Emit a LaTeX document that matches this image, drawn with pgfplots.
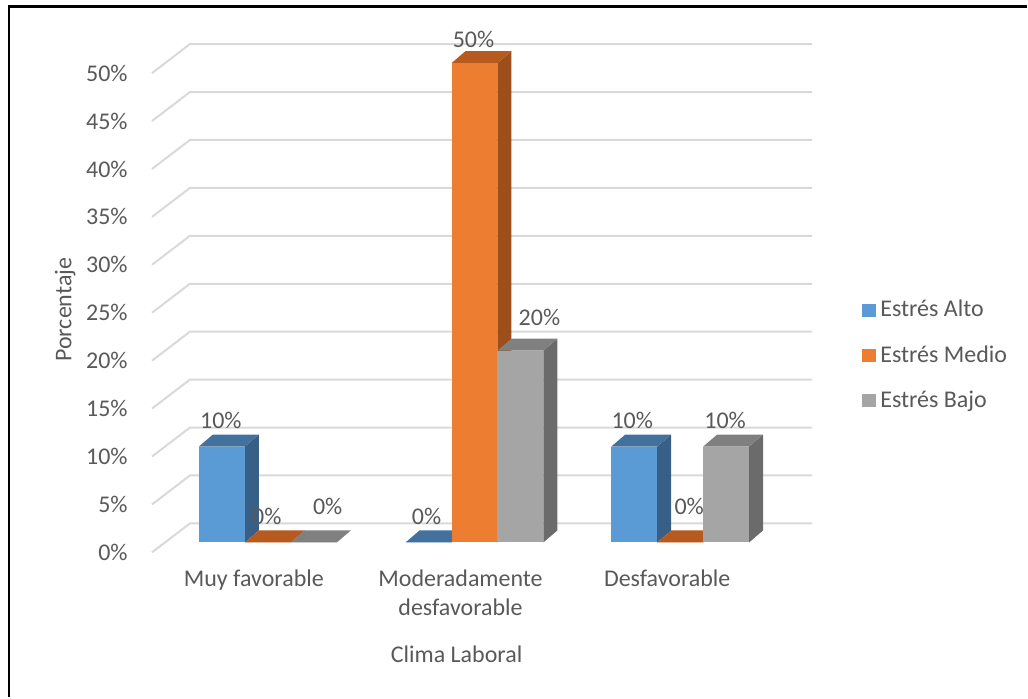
\documentclass[border=0pt]{standalone}
\usepackage{pgfplots}
\pgfplotsset{compat=1.18}
\usepackage{fontspec}
\setmainfont{Carlito}
\definecolor{txt}{HTML}{595959}
\definecolor{gridc}{HTML}{D9D9D9}
\definecolor{bF}{HTML}{5B9BD5}\definecolor{bT}{HTML}{41719C}\definecolor{bS}{HTML}{385F86}
\definecolor{oF}{HTML}{ED7D31}\definecolor{oT}{HTML}{B65A1F}\definecolor{oS}{HTML}{9C4E1B}
\definecolor{gF}{HTML}{A5A5A5}\definecolor{gT}{HTML}{808080}\definecolor{gS}{HTML}{6B6B6B}
\newcommand\fnt{\fontsize{12}{14.5}\selectfont}
% gridline of the back wall at value #1
\newcommand\gline[1]{%
  \pgfmathsetmacro\ya{#1-1.0417}%
  \pgfmathsetmacro\yb{#1+1.9792}%
  \edef\tmp{\noexpand\addplot[gridc, line width=1pt, forget plot] coordinates {(152,\ya) (190,\yb) (813,\yb)};}\tmp}
% 3D bar: #1 left x, #2 value, #3 front, #4 top, #5 side colour
\newcommand\tdbar[5]{%
  \pgfmathsetmacro\xa{#1}%
  \pgfmathsetmacro\xb{#1+46}%
  \pgfmathsetmacro\xc{#1+60}%
  \pgfmathsetmacro\xd{#1+14}%
  \pgfmathsetmacro\yt{#2}%
  \pgfmathsetmacro\ytb{#2+1.25}%
  \edef\tmp{%
    \noexpand\addplot[fill=#5, draw=none, forget plot] coordinates {(\xb,0) (\xc,1.25) (\xc,\ytb) (\xb,\yt)} --cycle;
    \noexpand\addplot[fill=#4, draw=none, forget plot] coordinates {(\xa,\yt) (\xb,\yt) (\xc,\ytb) (\xd,\ytb)} --cycle;
    \noexpand\addplot[fill=#3, draw=none, forget plot] coordinates {(\xa,0) (\xb,0) (\xb,\yt) (\xa,\yt)} --cycle;
  }\tmp}
\begin{document}
\fnt
\begin{tikzpicture}
\begin{axis}[
  width=514pt, height=349pt, scale only axis,
  xmin=0, xmax=1028, ymin=-16.1458, ymax=56.5625,
  clip=false,
  axis line style={draw=none},
  major tick length=0pt,
  ytick={-1.0417,3.9583,8.9583,13.9583,18.9583,23.9583,28.9583,33.9583,38.9583,43.9583,48.9583},
  yticklabels={0\%,5\%,10\%,15\%,20\%,25\%,30\%,35\%,40\%,45\%,50\%},
  xtick={254,461,668},
  xticklabels={Muy favorable,{Moderadamente\\desfavorable},Desfavorable},
  tick label style={font=\fnt, text=txt, inner sep=0pt},
  yticklabel style={anchor=east, xshift=64pt},
  xticklabel style={anchor=north, align=center, yshift=64pt},
  xlabel={Clima Laboral}, ylabel={Porcentaje},
  every axis x label/.style={at={(rel axis cs:0.4446,0.0616)}, anchor=center, font=\fnt, text=txt},
  every axis y label/.style={at={(rel axis cs:0.0632,0.5559)}, anchor=center, rotate=90, font=\fnt, text=txt},
  legend image code/.code={\fill[#1, draw=none] (0pt,-3.4pt) rectangle (7pt,3.4pt);},
  legend style={at={(rel axis cs:0.8395,0.5759)}, anchor=north west, draw=none, fill=none,
    font=\fnt, text=txt, row sep=8.5pt, inner sep=0pt},
  legend cell align=left,
]
\gline{0}\gline{5}\gline{10}\gline{15}\gline{20}\gline{25}
\gline{30}\gline{35}\gline{40}\gline{45}\gline{50}
% Muy favorable
\tdbar{199}{10}{bF}{bT}{bS}
\tdbar{245}{0}{oF}{oT}{oS}
\tdbar{291}{0}{gF}{gT}{gS}
% Moderadamente desfavorable
\tdbar{406}{0}{bF}{bT}{bS}
\tdbar{452}{50}{oF}{oT}{oS}
\tdbar{498}{20}{gF}{gT}{gS}
% Desfavorable
\tdbar{612}{10}{bF}{bT}{bS}
\tdbar{658}{0}{oF}{oT}{oS}
\tdbar{704}{10}{gF}{gT}{gS}
% data labels
\addplot[draw=none, forget plot, nodes near coords, point meta=explicit symbolic,
  every node near coord/.append style={anchor=center, inner sep=0pt, text=txt, font=\fnt}]
  coordinates {(221,12.71)[10\%] (267,2.71)[0\%] (328,3.75)[0\%]
               (427,2.71)[0\%] (474,52.5)[50\%] (540,23.44)[20\%]
               (633,12.71)[10\%] (690,3.75)[0\%] (726,12.71)[10\%]};
\addlegendimage{draw=none, fill=bF}\addlegendentry{Estrés Alto}
\addlegendimage{draw=none, fill=oF}\addlegendentry{Estrés Medio}
\addlegendimage{draw=none, fill=gF}\addlegendentry{Estrés Bajo}
\draw[black, line width=1.3pt] (axis cs:9,-16.1458) -- (axis cs:9,55.89) -- (axis cs:1028,55.89);
\end{axis}
\end{tikzpicture}
\end{document}
